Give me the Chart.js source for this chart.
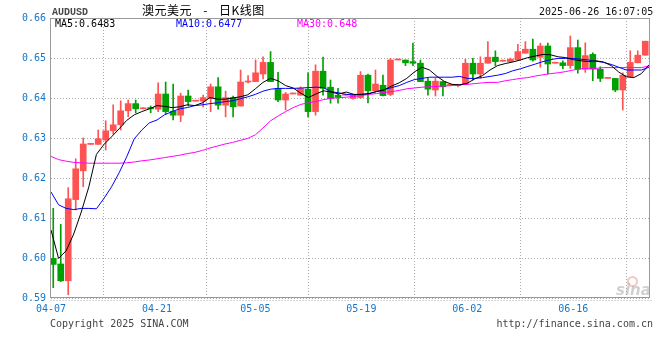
<!DOCTYPE html>
<html><head><meta charset="utf-8">
<script src="https://cdn.jsdelivr.net/npm/chart.js@4.4.1/dist/chart.umd.min.js"></script>
<style>
html,body{margin:0;padding:0;background:#fff;}
#wrap{position:relative;width:660px;height:360px;overflow:hidden;background:#fff;}
canvas{position:absolute;left:0;top:0;}
.t{position:absolute;white-space:pre;font-family:"DejaVu Sans Mono",monospace;font-size:10px;line-height:10px;}
</style></head><body>
<div id="wrap">
<canvas id="c" width="660" height="360"></canvas>
<div class="t" style="left:52px;top:8px;font-family:'Liberation Mono',monospace;font-weight:bold;color:#4a4a4a;">AUDUSD</div>
<div class="t" style="left:142px;top:3px;font-family:'Noto Sans CJK SC',sans-serif;font-size:12px;line-height:13px;letter-spacing:0.5px;word-spacing:8px;color:#000;">澳元美元 - 日K线图</div>
<div class="t" style="left:539px;top:6.5px;color:#111;">2025-06-26 16:07:05</div>
<div class="t" id="ma5l" style="left:55px;top:18.5px;color:#000;"></div>
<div class="t" id="ma10l" style="left:176px;top:18.5px;color:#0000ff;"></div>
<div class="t" id="ma30l" style="left:297px;top:18.5px;color:#ff00ff;"></div>
<div class="t" style="left:50px;top:319px;color:#444;">Copyright 2025 SINA.COM</div>
<div class="t" style="right:7px;top:319px;color:#444;">http://finance.sina.com.cn</div>
<div style="position:absolute;left:627px;top:276px;width:7px;height:7px;border-radius:50%;border:2px solid rgba(230,130,130,0.45);"></div>
<div class="t" style="left:616px;top:283px;font-family:'DejaVu Sans',sans-serif;font-style:italic;font-weight:bold;font-size:15px;line-height:15px;color:rgba(170,170,170,0.55);">sina</div>
</div>
<script>
const dates = ['04-07','04-08','04-09','04-10','04-11','04-12','04-13','04-14','04-15','04-16','04-17','04-18','04-19','04-20','04-21','04-22','04-23','04-24','04-25','04-26','04-27','04-28','04-29','04-30',
'05-01','05-02','05-03','05-05','05-06','05-07','05-08','05-09','05-10','05-11','05-12','05-13','05-14','05-15','05-16','05-17','05-18','05-19','05-20','05-21','05-22','05-23','05-24','05-25','05-26','05-27','05-28','05-29','05-30','05-31',
'06-01','06-02','06-03','06-04','06-05','06-06','06-07','06-08','06-09','06-10','06-11','06-12','06-13','06-14','06-15','06-16','06-17','06-18','06-19','06-20','06-21','06-22','06-23','06-24','06-25','06-26'];

const open = [.5999,.5985,.5943,.6146,.6218,.6284,.6284,.6295,.6318,.6333,
.6368,.6386,.6373,.6376,.6372,.6410,.6367,.6357,.6405,.6392,
.6392,.6399,.6428,.6382,.6401,.6380,.6440,.6441,.6460,.6489,
.6424,.6395,.6410,.6407,.6422,.6366,.6467,.6427,.6407,.6407,
.6399,.6401,.6457,.6418,.6432,.6409,.6495,.6495,.6491,.6487,
.6442,.6420,.6441,.6432,.6431,.6434,.6487,.6460,.6487,.6502,
.6492,.6491,.6495,.6512,.6522,.6502,.6530,.6487,.6488,.6481,
.6526,.6472,.6509,.6472,.6449,.6449,.6420,.6453,.6488,.6507];
const high = [.6124,.6084,.6176,.6248,.6300,.6285,.6320,.6343,.6383,.6393,
.6395,.6395,.6373,.6380,.6438,.6440,.6435,.6412,.6420,.6392,
.6407,.6435,.6451,.6417,.6405,.6470,.6456,.6495,.6503,.6516,
.6464,.6414,.6410,.6428,.6463,.6483,.6502,.6445,.6424,.6407,
.6410,.6466,.6460,.6470,.6457,.6499,.6495,.6495,.6537,.6495,
.6449,.6449,.6441,.6432,.6434,.6497,.6499,.6503,.6541,.6518,
.6492,.6500,.6534,.6541,.6547,.6537,.6537,.6487,.6493,.6555,
.6545,.6538,.6513,.6478,.6449,.6449,.6463,.6518,.6518,.6542];
const low = [.5926,.5941,.5908,.6120,.6178,.6284,.6284,.6270,.6310,.6320,
.6353,.6363,.6373,.6363,.6366,.6360,.6345,.6341,.6380,.6392,
.6378,.6366,.6372,.6353,.6353,.6380,.6438,.6441,.6448,.6441,
.6391,.6370,.6410,.6407,.6353,.6357,.6407,.6387,.6387,.6407,
.6397,.6399,.6388,.6416,.6405,.6406,.6495,.6481,.6481,.6441,
.6407,.6405,.6405,.6432,.6428,.6434,.6445,.6449,.6487,.6481,
.6492,.6490,.6495,.6512,.6492,.6477,.6460,.6487,.6473,.6474,
.6462,.6464,.6443,.6441,.6449,.6416,.6370,.6453,.6488,.6507];
const close = [.5984,.5943,.6148,.6223,.6285,.6285,.6298,.6318,.6333,.6368,
.6386,.6373,.6373,.6373,.6410,.6366,.6357,.6405,.6391,.6392,
.6401,.6428,.6382,.6401,.6378,.6440,.6442,.6463,.6489,.6441,
.6395,.6410,.6410,.6424,.6366,.6467,.6424,.6399,.6402,.6407,
.6407,.6457,.6418,.6435,.6406,.6495,.6495,.6488,.6487,.6441,
.6422,.6442,.6428,.6432,.6433,.6487,.6460,.6487,.6502,.6491,
.6492,.6497,.6516,.6522,.6495,.6530,.6485,.6487,.6481,.6526,
.6472,.6506,.6472,.6449,.6449,.6420,.6457,.6489,.6507,.6542];

const ma5 = [.6070,.5999,.6018,.6060,.6115,.6178,.6259,.6284,.6303,.6323,
.6344,.6358,.6366,.6373,.6381,.6379,.6376,.6378,.6383,.6381,
.6388,.6401,.6397,.6397,.6400,.6403,.6408,.6423,.6439,.6449,
.6443,.6431,.6425,.6412,.6401,.6410,.6418,.6415,.6410,.6415,
.6409,.6409,.6411,.6416,.6420,.6430,.6438,.6449,.6465,.6477,
.6470,.6454,.6441,.6434,.6433,.6437,.6448,.6456,.6470,.6481,
.6486,.6490,.6495,.6501,.6505,.6509,.6508,.6503,.6501,.6496,
.6493,.6491,.6493,.6490,.6481,.6465,.6453,.6451,.6461,.6483];
const ma10 = [.6165,.6133,.6124,.6121,.6124,.6124,.6123,.6149,.6178,.6213,
.6253,.6298,.6320,.6338,.6345,.6358,.6366,.6373,.6376,.6381,
.6383,.6386,.6388,.6391,.6393,.6398,.6403,.6409,.6417,.6422,
.6424,.6424,.6424,.6425,.6426,.6427,.6426,.6416,.6413,.6409,
.6408,.6409,.6411,.6416,.6421,.6426,.6431,.6439,.6446,.6449,
.6452,.6452,.6452,.6452,.6454,.6449,.6449,.6451,.6454,.6457,
.6461,.6468,.6473,.6479,.6485,.6491,.6496,.6499,.6499,.6499,
.6497,.6495,.6492,.6489,.6484,.6477,.6470,.6470,.6470,.6477];
const ma30 = [.6254,.6246,.6242,.6239,.6238,.6237,.6237,.6237,.6237,.6237,
.6238,.6240,.6243,.6245,.6248,.6251,.6254,.6257,.6261,.6264,
.6269,.6275,.6280,.6285,.6289,.6294,.6299,.6308,.6325,.6343,
.6355,.6366,.6376,.6384,.6388,.6391,.6396,.6399,.6401,.6402,
.6404,.6406,.6409,.6411,.6414,.6416,.6419,.6423,.6425,.6427,
.6428,.6429,.6430,.6431,.6433,.6434,.6436,.6438,.6439,.6439,
.6443,.6446,.6449,.6451,.6455,.6458,.6461,.6463,.6466,.6470,
.6473,.6474,.6474,.6476,.6476,.6476,.6476,.6476,.6476,.648];

const xTickLabels = ['04-07','04-21','05-05','05-19','06-02','06-16'];
const yTickLabels = ['0.59','0.60','0.61','0.62','0.63','0.64','0.65','0.66'];

const RED = '#ff5353', GREEN = '#00a000';
const X_MIN = -0.3, X_MAX = 79.5;
const gx = i => X_MIN + i * (X_MAX - X_MIN) / (dates.length - 1);
const colors = close.map((c, i) => c >= open[i] ? RED : GREEN);

document.getElementById('ma5l').textContent = 'MA5:' + ma5[ma5.length - 1];
document.getElementById('ma10l').textContent = 'MA10:' + ma10[ma10.length - 1];
document.getElementById('ma30l').textContent = 'MA30:' + ma30[ma30.length - 1];

const framePlugin = {
  id: 'frame',
  beforeDatasetsDraw(chart) {
    const {ctx, chartArea: a} = chart;
    ctx.save();
    ctx.strokeStyle = '#999'; ctx.lineWidth = 1;
    const l = Math.floor(a.left) - 0.5, t = Math.floor(a.top) + 0.5;
    const r = Math.round(a.right) + 0.5, b = Math.round(a.bottom) - 0.5;
    ctx.strokeRect(l, t, r - l, b - t);
    ctx.setLineDash([1, 2]); ctx.strokeStyle = '#aaa';
    ctx.beginPath(); ctx.moveTo(l, b + 3); ctx.lineTo(r + 3, b + 3); ctx.stroke();
    ctx.restore();
  }
};

const lineDs = (arr, col) => ({
  type: 'line', data: arr.map((v, i) => ({x: gx(i), y: v})),
  borderColor: col, borderWidth: 1, pointRadius: 0, tension: 0, fill: false
});

new Chart(document.getElementById('c'), {
  type: 'bar',
  data: {
    datasets: [
      lineDs(ma5, '#000000'),
      lineDs(ma10, '#0000ff'),
      lineDs(ma30, '#ff00ff'),
      { type: 'bar', data: open.map((o, i) => ({x: i, y: [o, close[i]]})), backgroundColor: colors,
        barThickness: 6, maxBarThickness: 6, minBarLength: 1, grouped: false, borderWidth: 0 },
      { type: 'bar', data: open.map((o, i) => ({x: i, y: [low[i], high[i]]})), backgroundColor: colors,
        barThickness: 1, maxBarThickness: 1, minBarLength: 1, grouped: false, borderWidth: 0 }
    ]
  },
  options: {
    responsive: false, animation: false, devicePixelRatio: 1, events: [],
    layout: { padding: { top: 18, right: 11, left: 0, bottom: 0 } },
    plugins: { legend: { display: false }, tooltip: { enabled: false } },
    scales: {
      x: {
        type: 'linear', min: X_MIN, max: X_MAX, offset: false,
        grid: { color: '#aaa', lineWidth: 1, drawTicks: false },
        border: { display: false, dash: [1, 2] },
        afterBuildTicks: s => { s.ticks = xTickLabels.map(l => ({value: gx(dates.indexOf(l))})); },
        ticks: { autoSkip: false, maxRotation: 0, minRotation: 0, padding: 5, color: '#1577cc',
          font: { family: 'DejaVu Sans Mono', size: 10 }, callback: (v, i) => xTickLabels[i] },
        afterFit: s => { s.height = 62; }
      },
      y: {
        type: 'linear', position: 'left', min: 0.59, max: 0.66,
        grid: { color: '#aaa', lineWidth: 1, drawTicks: false },
        border: { display: false, dash: [1, 2] },
        afterBuildTicks: s => { s.ticks = yTickLabels.map(l => ({value: parseFloat(l)})); },
        ticks: { padding: 5, color: '#1577cc', font: { family: 'DejaVu Sans Mono', size: 10 },
          callback: (v, i) => yTickLabels[i] },
        afterFit: s => { s.width = 51; }
      }
    }
  },
  plugins: [framePlugin]
});
</script>
</body></html>
